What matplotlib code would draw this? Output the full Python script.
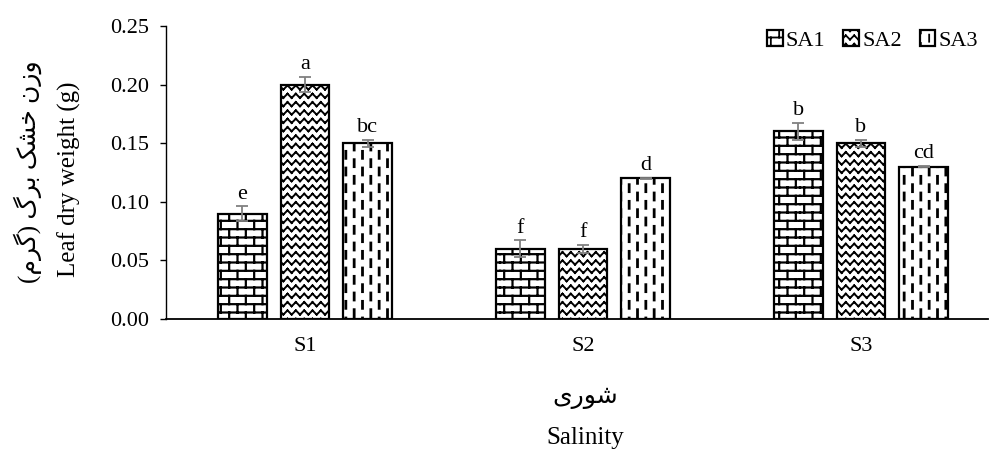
import warnings
import numpy as np
import matplotlib
matplotlib.use('Agg')
import matplotlib.pyplot as plt
from matplotlib import hatch as mhatch
from matplotlib.path import Path
from matplotlib.ticker import FormatStrFormatter

groups = ['S1', 'S2', 'S3']
series = ['SA1', 'SA2', 'SA3']
sa1 = [0.09, 0.06, 0.16]
sa2 = [0.20, 0.06, 0.15]
sa3 = [0.15, 0.12, 0.13]
sa1_err = [0.006, 0.007, 0.007]
sa2_err = [0.0065, 0.0035, 0.003]
sa3_err = [0.003, 0.0005, 0.0005]
sa1_letters = ['e', 'f', 'b']
sa2_letters = ['a', 'f', 'b']
sa3_letters = ['bc', 'd', 'cd']

ylabel_fa = 'وزن خشک برگ (گرم)'
ylabel_en = 'Leaf dry weight (g)'
xlabel_fa = 'شوری'
xlabel_en = 'Salinity'

# matplotlib does no arabic shaping, so pick presentation forms by hand
# letter -> (isolated, final, initial, medial); right-joining letters have two
FORMS = {
    'و': ('\ufeed', '\ufeee'),
    'ز': ('\ufeaf', '\ufeb0'),
    'ر': ('\ufead', '\ufeae'),
    'ن': ('\ufee5', '\ufee6', '\ufee7', '\ufee8'),
    'خ': ('\ufea5', '\ufea6', '\ufea7', '\ufea8'),
    'ش': ('\ufeb5', '\ufeb6', '\ufeb7', '\ufeb8'),
    'ک': ('\ufb8e', '\ufb8f', '\ufb90', '\ufb91'),
    'ب': ('\ufe8f', '\ufe90', '\ufe91', '\ufe92'),
    'گ': ('\ufb92', '\ufb93', '\ufb94', '\ufb95'),
    'م': ('\ufee1', '\ufee2', '\ufee3', '\ufee4'),
    'ی': ('\ufbfc', '\ufbfd', '\ufbfe', '\ufbff'),
}


def shape_fa(s):
    out = []
    for i, ch in enumerate(s):
        f = FORMS.get(ch)
        if f is None:
            out.append({'(': ')', ')': '('}.get(ch, ch))
            continue
        prev = s[i - 1] if i > 0 else ''
        nxt = s[i + 1] if i + 1 < len(s) else ''
        join_prev = len(FORMS.get(prev, ())) == 4
        join_next = len(f) == 4 and nxt in FORMS
        out.append(f[[[0, 2], [1, 3]][join_prev][join_next]])
    return ''.join(reversed(out))


# custom hatches: b = bricks, z = zigzag, d = dashed columns
def wrap(segs):
    segs = np.asarray(segs, float)
    out = [segs + [dx, dy] for dx in (-1, 0, 1) for dy in (-1, 0, 1)]
    return np.concatenate(out).reshape(-1, 2)


def brick_segs(rows=12, cols=6):
    segs = []
    for i in range(rows):
        y0, y1 = (i + 0.5) / rows, (i + 1.5) / rows
        segs.append(((0, y0), (1, y0)))
        for j in range(cols):
            xx = (j + 0.25 + 0.5 * (i % 2)) / cols
            segs.append(((xx, y0), (xx, y1)))
    return wrap(segs)


def zigzag_segs(rows=12, n=12):
    segs = []
    amp = 0.5 / rows
    for i in range(rows):
        y = (i + 0.25) / rows
        for k in range(2 * n):
            segs.append(((k / (2 * n), y + amp * (k % 2)),
                         ((k + 1) / (2 * n), y + amp * ((k + 1) % 2))))
    return wrap(segs)


def dash_segs(cols=12, per=6, length=0.07):
    segs = []
    for j in range(cols):
        xx = (j + 0.5) / cols
        for k in range(per):
            y0 = (k + 0.5 * (j % 2)) / per
            segs.append(((xx, y0), (xx, y0 + length)))
    return wrap(segs)


def make_hatch(char, verts):
    class _Hatch(mhatch.HatchPatternBase):
        def __init__(self, hatch, density):
            self.num_vertices = len(verts) if char in hatch else 0

        def set_vertices_and_codes(self, vertices, codes):
            vertices[:] = verts
            codes[0::2] = Path.MOVETO
            codes[1::2] = Path.LINETO
    return _Hatch


mhatch._hatch_types.extend([make_hatch('b', brick_segs()),
                            make_hatch('z', zigzag_segs()),
                            make_hatch('d', dash_segs())])
warnings.filterwarnings('ignore', message='hatch must consist')

plt.rcParams['font.family'] = ['Liberation Serif', 'DejaVu Sans']
plt.rcParams['hatch.linewidth'] = 1.3

fig = plt.figure(figsize=(9.89, 4.5), dpi=100)
ax = fig.add_axes([166 / 989, 131 / 450, 822 / 989, 293 / 450])

x = np.arange(len(groups))
width = 0.175
step = 0.225
data = [(sa1, sa1_err, sa1_letters, 'b', 1.6),
        (sa2, sa2_err, sa2_letters, 'z', 1.4),
        (sa3, sa3_err, sa3_letters, 'd', 2.0)]
for k, (vals, errs, letters, h, hlw) in enumerate(data):
    pos = x + (k - 1) * step
    bars = ax.bar(pos, vals, width, color='white', edgecolor='black',
                  linewidth=1.6, hatch=h, label=series[k], zorder=2)
    for b in bars:
        try:
            b.set_hatch_linewidth(hlw)
        except AttributeError:
            pass
    ax.errorbar(pos, vals, yerr=errs, fmt='none', ecolor='#808080',
                elinewidth=1.3, capsize=4, capthick=1.3, zorder=3)
    for p, v, e, t in zip(pos, vals, errs, letters):
        ax.annotate(t, (p, v + e), xytext=(0, 2), textcoords='offset points',
                    ha='center', va='bottom', fontsize=16)

ax.set_xlim(-0.5, 2.457)
ax.set_ylim(0, 0.25)
ax.set_yticks(np.arange(0, 0.251, 0.05))
ax.yaxis.set_major_formatter(FormatStrFormatter('%.2f'))
ax.set_xticks(x)
ax.set_xticklabels(groups)
ax.tick_params(axis='y', direction='out', length=4, width=1, pad=8, labelsize=16)
ax.tick_params(axis='x', length=0, pad=13, labelsize=16)
ax.spines['top'].set_visible(False)
ax.spines['right'].set_visible(False)
ax.spines['left'].set_linewidth(1)
ax.spines['bottom'].set_linewidth(1.3)

fig.text(28 / 989, 1 - 172 / 450, shape_fa(ylabel_fa), rotation=90,
         ha='center', va='center', fontsize=18)
fig.text(69 / 989, 1 - 179 / 450, ylabel_en, rotation=90,
         ha='center', va='center', fontsize=18)
fig.text(585 / 989, 1 - 398 / 450, shape_fa(xlabel_fa),
         ha='center', va='center', fontsize=18)
fig.text(585 / 989, 1 - 444 / 450, xlabel_en,
         ha='center', va='baseline', fontsize=18)

ax.legend(ncol=3, loc='upper right', bbox_to_anchor=(978 / 989, 1 - 30 / 450),
          bbox_transform=fig.transFigure, frameon=False, fontsize=16,
          handlelength=0.7, handleheight=0.7, handletextpad=0.15,
          columnspacing=0.8, borderaxespad=0, borderpad=0)

fig.savefig('out.png', dpi=100)
